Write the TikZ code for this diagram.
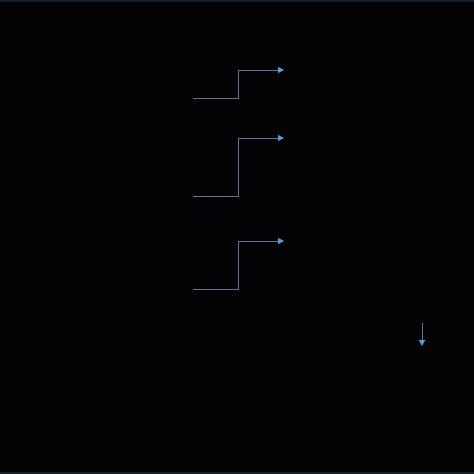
\documentclass[tikz,border=0pt]{standalone}
\usetikzlibrary{arrows.meta}
\definecolor{bg}{HTML}{030305}
\definecolor{edge}{HTML}{15202B}
\definecolor{wire}{HTML}{5A7894}
\definecolor{tip}{HTML}{5A9AD8}
\tikzset{
  wirestyle/.style={draw=wire, line width=1pt, -{Triangle[length=6pt,width=6pt,fill=tip,color=tip]}},
}
\begin{document}
\begin{tikzpicture}[x=1pt,y=-1pt]
\fill[bg] (0,0) rectangle (474,474);
\useasboundingbox (0,0) rectangle (474,474);
\fill[edge] (0,0) rectangle (474,2);
\fill[edge] (0,472) rectangle (474,474);
\coordinate (a1) at (193,98);
\coordinate (b1) at (284,70);
\coordinate (a2) at (193,196);
\coordinate (b2) at (284,138);
\coordinate (a3) at (193,289);
\coordinate (b3) at (284,241);
\coordinate (c1) at (422,323);
\coordinate (c2) at (422,346);
\draw[wirestyle] (a1) -- (238,98) -- (238,70) -- (b1);
\draw[wirestyle] (a2) -- (238,196) -- (238,138) -- (b2);
\draw[wirestyle] (a3) -- (238,289) -- (238,241) -- (b3);
\draw[wirestyle] (c1) -- (c2);
\end{tikzpicture}
\end{document}
